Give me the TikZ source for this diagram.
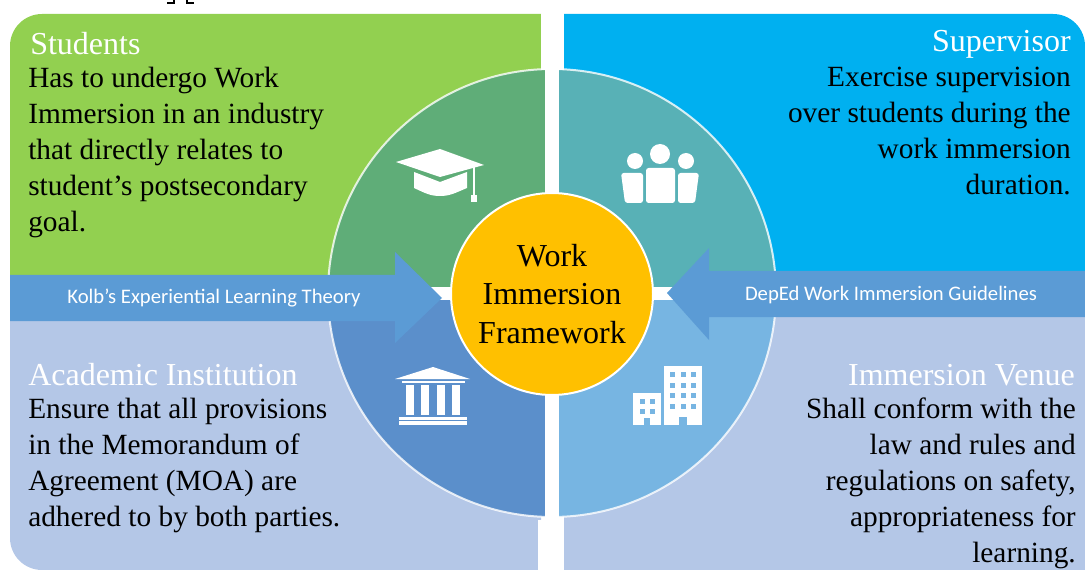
\documentclass[tikz,border=0pt]{standalone}
\usepackage{fontspec}
\setmainfont{Liberation Serif}
\newfontfamily\arrowfont{Carlito}
\definecolor{stugreen}{HTML}{92D050}
\definecolor{supblue}{HTML}{00B0F0}
\definecolor{panelblue}{HTML}{B4C7E7}
\definecolor{sectgreen}{HTML}{5FAD78}
\definecolor{sectteal}{HTML}{58B1B6}
\definecolor{sectblue}{HTML}{5B8FCB}
\definecolor{sectsky}{HTML}{77B5E2}
\definecolor{hubyellow}{HTML}{FFC000}
\definecolor{arrowblue}{HTML}{5B9BD5}
\tikzset{
  heading/.style={inner sep=0pt, text=white, font=\fontsize{24}{27}\selectfont},
  bodytext/.style={inner sep=0pt, font=\fontsize{22}{27}\selectfont},
  arrowlabel/.style={inner sep=0pt, text=white, font=\arrowfont\fontsize{15.5}{18}\selectfont},
}
\begin{document}
\begin{tikzpicture}[x=0.75pt,y=-0.75pt]
        \useasboundingbox (0,0) rectangle (1085,570);

        % Cut off reference mark at the top edge
        \draw[line width=0.8pt] (174,0) -- (174,3) -- (167,3);
        \draw[line width=0.8pt] (187,0) -- (187,3) -- (194,3);

        % Corner panels
        \fill[stugreen] (541,14) [rounded corners=24pt] -- (10,14) [sharp corners] -- (10,276) -- (541,276) -- cycle;
        \fill[supblue] (564,272) -- (564,14) [rounded corners=24pt] -- (1085,14) [sharp corners] -- (1085,272) -- cycle;
        \fill[panelblue] (541,320) -- (541,570) [rounded corners=24pt] -- (10,570) [sharp corners] -- (10,320) -- cycle;
        \fill[panelblue] (564,316) -- (564,570) -- (1085,570) -- (1085,316) -- cycle;

        % Quarters of the big disc
        \begin{scope}
            \clip (552,293) circle [radius=168pt];
            \fill[sectgreen] (552,293) rectangle (320,60);
            \fill[sectteal] (552,293) rectangle (785,60);
            \fill[sectblue] (552,293) rectangle (320,525);
            \fill[sectsky] (552,293) rectangle (785,525);
        \end{scope}
        \draw[white, opacity=0.8, line width=1.5pt] (552,293) circle [radius=168pt];

        % White gaps between the quarters
        \fill[white] (545,60) rectangle (559,530);
        \fill[white] (430,287) rectangle (675,300);
        \fill[white] (538,520) rectangle (564,570);
        \fill[white] (541,14) rectangle (564,70);

        % Side arrows
        \fill[arrowblue] (10,275) -- (395,275) -- (395,252) -- (442,298) -- (395,343) -- (395,321) -- (10,321) -- cycle;
        \fill[arrowblue] (1085,271) -- (709,271) -- (709,248) -- (667,293) -- (709,340) -- (709,317) -- (1085,317) -- cycle;
        \node[arrowlabel] (kolb) at (214,298) {Kolb’s Experiential Learning Theory};
        \node[arrowlabel] (deped) at (891,295) {DepEd Work Immersion Guidelines};

        % Centre circle
        \node[circle, fill=hubyellow, draw=white, line width=1.5pt, minimum size=151.5pt, inner sep=0pt,
              align=center, font=\fontsize{24}{29}\selectfont] (hub) at (552,294) {Work\\Immersion\\Framework};

        % Graduation cap
        \fill[white] (396,162) -- (440,149) -- (484,165) -- (440,177) -- cycle;
        \fill[white] (414,172) -- (440,182) -- (467,172) -- (467,188) .. controls (455,193) and (450,196) .. (440,196) .. controls (430,196) and (425,193) .. (414,188) -- cycle;
        \fill[white] (473,165) rectangle (475,195);
        \fill[white] (471,195) rectangle (477,202);

        % People
        \fill[white] (660,154) circle [radius=7.5pt];
        \fill[white] (635,161) circle [radius=6pt];
        \fill[white] (686,161) circle [radius=6pt];
        \fill[white, rounded corners=2pt] (646,168) rectangle (675,203);
        \fill[white, rounded corners=2pt] (621,173) -- (643,173) -- (643,203) -- (625,203) -- cycle;
        \fill[white, rounded corners=2pt] (678,173) -- (699,173) -- (695,203) -- (678,203) -- cycle;

        % Temple
        \fill[white] (433,367) -- (470,379) -- (395,379) -- cycle;
        \fill[white] (402,381) rectangle (465,383);
        \foreach \colx in {406,421,437,452} {
            \fill[white] (\colx,385) rectangle ++(7.5,30);
        }
        \fill[white] (399,417) rectangle (467,420);
        \fill[white] (399,421) rectangle (467,425);

        % Buildings
        \fill[white] (633,393) rectangle (661,425);
        \fill[white] (664,366) rectangle (702,425);
        \foreach \winx in {672,683,693} {
            \foreach \winy in {374,385,395,406} {
                \fill[sectsky] (\winx-2.5,\winy-2.5) rectangle ++(5,5);
            }
        }
        \foreach \winx in {642,652} {
            \foreach \winy in {401,411} {
                \fill[sectsky] (\winx-2.5,\winy-2.5) rectangle ++(5,5);
            }
        }
        \fill[sectsky] (644,418) rectangle (650,425);
        \fill[sectsky] (679,417) rectangle (687,425);

        % Panel texts
        \node[heading, anchor=west] (students) at (30,44) {Students};
        \node[bodytext, anchor=north west, align=left] (studentstext) at (28,67)
            {Has to undergo Work\\Immersion in an industry\\that directly relates to\\student’s postsecondary\\goal.};
        \node[heading, anchor=east] (supervisor) at (1071,44) {Supervisor};
        \node[bodytext, anchor=north east, align=right] (supervisortext) at (1071,67)
            {Exercise supervision\\over students during the\\work immersion\\duration.};
        \node[heading, anchor=west] (academic) at (28,375) {Academic Institution};
        \node[bodytext, anchor=north west, align=left] (academictext) at (28,398)
            {Ensure that all provisions\\in the Memorandum of\\Agreement (MOA) are\\adhered to by both parties.};
        \node[heading, anchor=east] (venue) at (1075,375) {Immersion Venue};
        \node[bodytext, anchor=north east, align=right] (venuetext) at (1076,398)
            {Shall conform with the\\law and rules and\\regulations on safety,\\appropriateness for\\learning.};

\end{tikzpicture}
\end{document}
